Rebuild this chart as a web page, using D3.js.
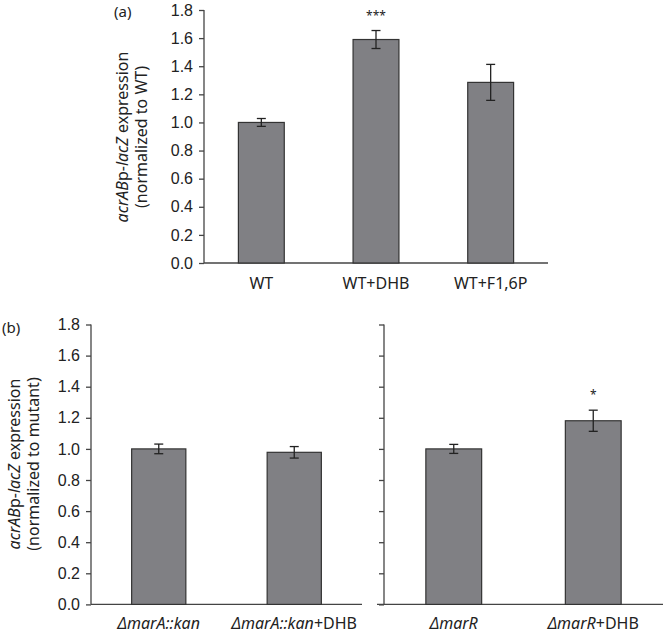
<!DOCTYPE html>
<html>
<head>
<meta charset="utf-8">
<script src="https://cdn.jsdelivr.net/npm/d3@7"></script>
<style>
  body { margin: 0; background: #fff; }
  svg { font-family: "Noto Sans", "Open Sans", sans-serif; }
  .axis path, .axis line { stroke: #444; stroke-width: 1.3; }
  .axis text { fill: #222; font-size: 16px; }
</style>
</head>
<body>
<svg id="chart" width="663" height="635"></svg>
<script>
// panel (a)
var catsA = ["WT", "WT+DHB", "WT+F1,6P"],
    valsA = [1.00, 1.59, 1.285],
    errsA = [0.028, 0.064, 0.128],
    starsA = ["", "***", ""];

// panel (b), left and right halves
var catsB1 = ["marA_kan", "marA_kan_DHB"],
    valsB1 = [1.00, 0.978],
    errsB1 = [0.031, 0.037],
    starsB1 = ["", ""];

var catsB2 = ["marR", "marR_DHB"],
    valsB2 = [1.00, 1.181],
    errsB2 = [0.029, 0.068],
    starsB2 = ["", "*"];

var yTicks = [0, 0.2, 0.4, 0.6, 0.8, 1.0, 1.2, 1.4, 1.6, 1.8];

var svg = d3.select("#chart");
var barFill = "#808084", barStroke = "#333";

function panel(opt) {
    var x = d3.scaleBand().domain(opt.cats).range([opt.x0, opt.x1])
        .paddingInner(0.6).paddingOuter(0.3);
    var y = d3.scaleLinear().domain([0, 1.8]).range([opt.y0, opt.y1]);
    var g = svg.append("g");

    var yAxis = d3.axisLeft(y).tickValues(yTicks).tickSize(5).tickPadding(6)
        .tickFormat(opt.tickLabels ? d3.format(".1f") : "");
    g.append("g").attr("class", "axis")
        .attr("transform", "translate(" + opt.x0 + ",0)")
        .call(yAxis)
        .call(function(s) { s.select(".domain").attr("d", "M0," + opt.y1 + "V" + opt.y0); });

    // baseline
    g.append("line")
        .attr("x1", opt.base0 != null ? opt.base0 : opt.x0).attr("x2", opt.x1)
        .attr("y1", y(0)).attr("y2", y(0))
        .attr("stroke", "#444").attr("stroke-width", 1.3);

    g.selectAll("rect.bar").data(opt.vals).enter().append("rect")
        .attr("class", "bar")
        .attr("x", function(d, i) { return x(opt.cats[i]); })
        .attr("width", x.bandwidth())
        .attr("y", function(d) { return y(d); })
        .attr("height", function(d) { return y(0) - y(d); })
        .attr("fill", barFill).attr("stroke", barStroke).attr("stroke-width", 1.2);

    var cx = function(i) { return x(opt.cats[i]) + x.bandwidth() / 2; };
    var eb = g.selectAll("g.err").data(opt.vals).enter().append("g")
        .attr("stroke", "#222").attr("stroke-width", 1.3);
    eb.append("line")
        .attr("x1", function(d, i) { return cx(i); }).attr("x2", function(d, i) { return cx(i); })
        .attr("y1", function(d, i) { return y(d + opt.errs[i]); })
        .attr("y2", function(d, i) { return y(d - opt.errs[i]); });
    [1, -1].forEach(function(sgn) {
        eb.append("line")
            .attr("x1", function(d, i) { return cx(i) - 4.5; })
            .attr("x2", function(d, i) { return cx(i) + 4.5; })
            .attr("y1", function(d, i) { return y(d + sgn * opt.errs[i]); })
            .attr("y2", function(d, i) { return y(d + sgn * opt.errs[i]); });
    });

    g.selectAll("text.star").data(opt.stars).enter().append("text")
        .attr("class", "star")
        .attr("x", function(d, i) { return cx(i); })
        .attr("y", function(d, i) { return y(opt.vals[i] + opt.errs[i]) - 11; })
        .attr("text-anchor", "middle").attr("font-size", "12px").attr("fill", "#222")
        .text(function(d) { return d; });

    var lab = g.selectAll("text.cat").data(opt.cats).enter().append("text")
        .attr("class", "cat")
        .attr("x", function(d, i) { return cx(i); })
        .attr("y", opt.labelY)
        .attr("text-anchor", "middle").attr("font-size", "16px").attr("fill", "#222");
    lab.each(function(d, i) {
        var t = d3.select(this);
        opt.labels[i].forEach(function(part) {
            t.append("tspan").attr("font-style", part[1] ? "italic" : null).text(part[0]);
        });
    });
    return g;
}

panel({
    cats: catsA, vals: valsA, errs: errsA, stars: starsA,
    x0: 204, x1: 548, y0: 263, y1: 10, labelY: 289, tickLabels: true,
    labels: catsA.map(function(c) { return [[c, false]]; })
});

panel({
    cats: catsB1, vals: valsB1, errs: errsB1, stars: starsB1,
    x0: 91, x1: 362, y0: 604.4, y1: 324.5, labelY: 629, tickLabels: true,
    labels: [[["\u0394marA::kan", true]], [["\u0394marA::kan", true], ["+DHB", false]]]
});

panel({
    cats: catsB2, vals: valsB2, errs: errsB2, stars: starsB2,
    x0: 384, x1: 663, base0: 377, y0: 604.4, y1: 324.5, labelY: 629, tickLabels: false,
    labels: [[["\u0394marR", true]], [["\u0394marR", true], ["+DHB", false]]]
});

// y axis titles
function yTitle(cx, cy, second) {
    var g = svg.append("g").attr("transform", "translate(" + cx + "," + cy + ") rotate(-90)")
        .attr("font-size", "16px").attr("fill", "#222").attr("text-anchor", "middle");
    var t = g.append("text").attr("y", -5);
    [["acrAB", true], ["p-", false], ["lacZ", true], [" expression", false]].forEach(function(p) {
        t.append("tspan").attr("font-style", p[1] ? "italic" : null).text(p[0]);
    });
    g.append("text").attr("y", 14).text(second);
}
yTitle(133, 137, "(normalized to WT)");
yTitle(25, 464, "(normalized to mutant)");

svg.append("text").attr("x", 114).attr("y", 17).attr("font-size", "15px").attr("fill", "#222").text("(a)");
svg.append("text").attr("x", 2).attr("y", 333).attr("font-size", "15px").attr("fill", "#222").text("(b)");
</script>
</body>
</html>
